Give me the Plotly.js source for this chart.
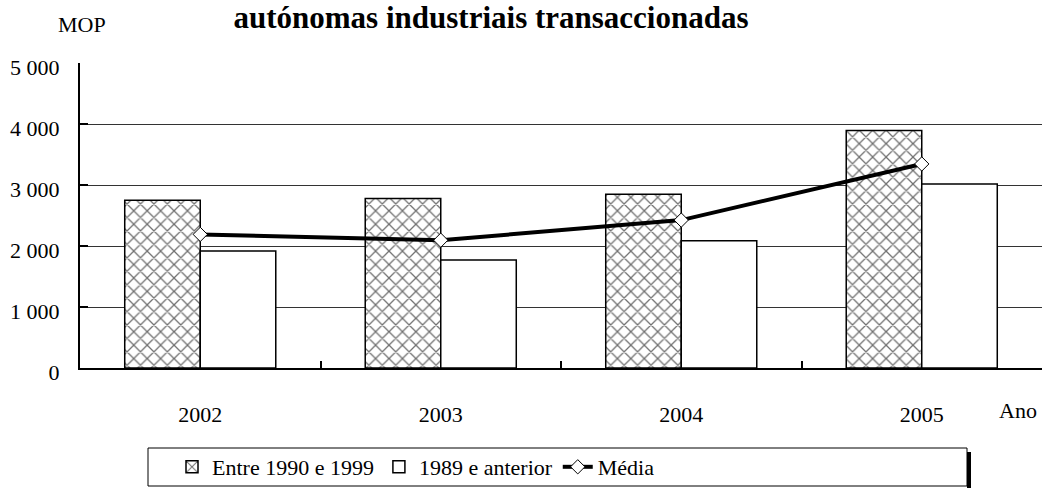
<!DOCTYPE html>
<html><head><meta charset="utf-8">
<script src="https://cdn.plot.ly/plotly-3.0.1.min.js"></script>
<style>html,body{margin:0;padding:0;background:#fff}#chart{width:1042px;height:488px}</style>
</head><body><div id="chart"></div>
<script>
const years = ['2002', '2003', '2004', '2005'];
const entre1990e1999 = [2750, 2780, 2850, 3895];
const anterior1989 = [1920, 1770, 2085, 3015];
const media = [2190, 2095, 2425, 3345];
const yTickVals = [0, 1000, 2000, 3000, 4000, 5000];
const yTickText = ['0', '1 000', '2 000', '3 000', '4 000', '5 000'];
const seriesNames = ['Entre 1990 e 1999', '1989 e anterior', 'Média'];
const titleText = 'autónomas industriais transaccionadas';

const FONT = '"Liberation Serif", "Times New Roman", serif';

const traces = [
  {
    type: 'bar', x: years, y: entre1990e1999, name: seriesNames[0],
    marker: {color: '#ffffff', line: {color: '#000', width: 1.5},
      pattern: {shape: 'x', fgcolor: '#707070', bgcolor: '#ffffff', size: 9.5, solidity: 0.25}}
  },
  {
    type: 'bar', x: years, y: anterior1989, name: seriesNames[1],
    marker: {color: '#ffffff', line: {color: '#000', width: 1.5}}
  },
  {
    type: 'scatter', mode: 'lines+markers', x: years, y: media, name: seriesNames[2],
    line: {color: '#000', width: 4},
    marker: {symbol: 'diamond', size: 11, color: '#ffffff', line: {color: '#000', width: 1}}
  }
];

const px = v => (v - 80) / 962;
const py = v => (368 - v) / 305;

const layout = {
  width: 1042, height: 488,
  margin: {l: 80, r: 0, t: 63, b: 120},
  paper_bgcolor: '#fff', plot_bgcolor: '#fff',
  font: {family: FONT, size: 22, color: '#000'},
  title: {text: titleText, font: {family: FONT, size: 31, color: '#000', weight: 'bold'},
    xref: 'container', x: 491 / 1042, xanchor: 'center', yref: 'container', y: 1 - 6 / 488, yanchor: 'top',
    pad: {t: 0, b: 0, l: 0, r: 0}},
  barmode: 'group', bargap: 0.372, bargroupgap: 0,
  showlegend: true,
  legend: {orientation: 'h', x: px(172), xanchor: 'left', y: py(467), yanchor: 'middle',
    bgcolor: 'rgba(0,0,0,0)', borderwidth: 0, font: {family: FONT, size: 22, color: '#000'},
    traceorder: 'normal'},
  xaxis: {type: 'category', showline: true, linecolor: '#000', linewidth: 2,
    ticks: 'inside', tickson: 'boundaries', ticklen: 7, tickwidth: 2, tickcolor: '#000',
    showgrid: false, ticklabelstandoff: 26, tickfont: {family: FONT, size: 22, color: '#000'}},
  yaxis: {range: [0, 5000], tickvals: yTickVals, ticktext: yTickText,
    showline: true, linecolor: '#000', linewidth: 2, ticks: 'inside', ticklen: 8, tickwidth: 2, tickcolor: '#000',
    showgrid: true, gridcolor: '#333', gridwidth: 1, zeroline: false,
    ticklabelstandoff: 14, ticklabelshift: 4, tickfont: {family: FONT, size: 22, color: '#000'}},
  annotations: [
    {text: 'MOP', xref: 'paper', yref: 'paper', x: px(82), y: py(24), xanchor: 'center', yanchor: 'middle',
      showarrow: false, font: {family: FONT, size: 22, color: '#000'}},
    {text: 'Ano', xref: 'paper', yref: 'paper', x: px(1018), y: py(410), xanchor: 'center', yanchor: 'middle',
      showarrow: false, font: {family: FONT, size: 22, color: '#000'}}
  ],
  shapes: [
    {type: 'rect', xref: 'paper', yref: 'paper', x0: px(967), x1: px(971), y0: py(452), y1: py(488),
      fillcolor: '#000', line: {width: 0}, layer: 'below'},
    {type: 'rect', xref: 'paper', yref: 'paper', x0: px(148), x1: px(967), y0: py(448), y1: py(486),
      fillcolor: '#fff', line: {color: '#000', width: 1}, layer: 'below'}
  ]
};

Plotly.newPlot('chart', traces, layout, {displayModeBar: false, staticPlot: true});
</script>
</body></html>
